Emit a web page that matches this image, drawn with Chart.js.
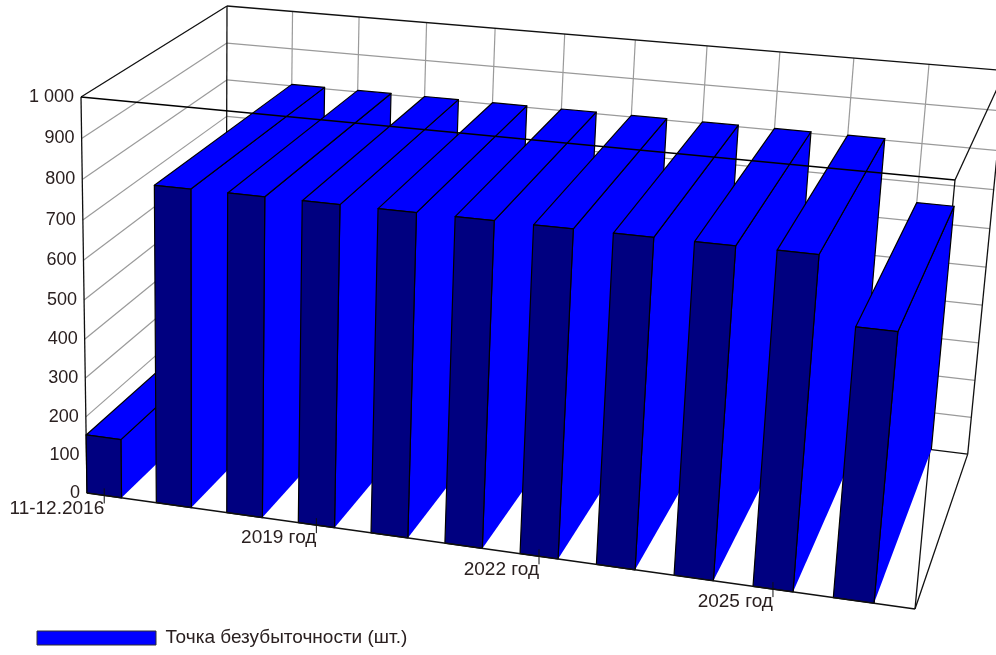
<!DOCTYPE html>
<html lang="ru">
<head>
<meta charset="utf-8">
<title>Точка безубыточности</title>
<script src="https://cdn.jsdelivr.net/npm/chart.js@4/dist/chart.umd.min.js"></script>
<style>
  html, body { margin: 0; padding: 0; background: #fff; }
  #wrap { position: relative; width: 996px; height: 655px; overflow: hidden; }
</style>
</head>
<body>
<div id="wrap"><canvas id="chart" width="996" height="655"></canvas></div>
<script>
var seriesName = "Точка безубыточности (шт.)";
var periods = ["11-12.2016", "2017 год", "2018 год", "2019 год", "2020 год", "2021 год",
               "2022 год", "2023 год", "2024 год", "2025 год", "2026 год"];
var breakEven = [153, 804, 804, 804, 804, 804, 804, 804, 804, 804, 648];
var yTickLabels = ["0", "100", "200", "300", "400", "500", "600", "700", "800", "900", "1 000"];
var labelEvery = 3;

var FONT_FAMILY = '"Liberation Sans", Arial, sans-serif';
var TEXT_COLOR = "#2a2020";
var GRID_COLOR = "#9a9a9a";
var FRAME_COLOR = "#101010";

// perspective camera: (u, depth, v) in 0..1 -> screen
var CAM = {
  x: [87, 749, 166.7, -9.94],
  y: [493, 63.42, -85.84, -400.72],
  w: [1, -0.08634, 0.1225, -0.04868]
};
function project(u, d, v) {
  var w = CAM.w[0] + CAM.w[1] * u + CAM.w[2] * d + CAM.w[3] * v;
  return {
    x: (CAM.x[0] + CAM.x[1] * u + CAM.x[2] * d + CAM.x[3] * v) / w,
    y: (CAM.y[0] + CAM.y[1] * u + CAM.y[2] * d + CAM.y[3] * v) / w
  };
}
function uOf(chart, px) {
  var a = chart.chartArea;
  return (px - a.left) / (a.right - a.left);
}
function vOf(chart, py) {
  var a = chart.chartArea;
  return (a.bottom - py) / (a.bottom - a.top);
}
function segment(ctx, p, q, color, width) {
  ctx.strokeStyle = color;
  ctx.lineWidth = width;
  ctx.beginPath();
  ctx.moveTo(p.x, p.y);
  ctx.lineTo(q.x, q.y);
  ctx.stroke();
}
// open = leave the closing edge without an outline
function face(ctx, pts, fill, open) {
  ctx.fillStyle = fill;
  ctx.strokeStyle = "#000";
  ctx.lineWidth = 1.2;
  ctx.lineJoin = "round";
  ctx.beginPath();
  pts.forEach(function(p, i) { if (i) ctx.lineTo(p.x, p.y); else ctx.moveTo(p.x, p.y); });
  if (!open) ctx.closePath();
  ctx.fill();
  ctx.stroke();
}

// bars use the normal bar layout, only the painting goes through the camera
class Bar3dController extends Chart.BarController {
  draw() {
    var chart = this.chart, ctx = chart.ctx;
    var ds = this.getDataset();
    this.getMeta().data.forEach(function(bar) {
      var p = bar.getProps(["x", "y", "width"], true);
      var u0 = uOf(chart, p.x - p.width / 2), u1 = uOf(chart, p.x + p.width / 2);
      var v = vOf(chart, p.y);
      // side, its floor edge has no outline
      face(ctx, [project(u1, 1, 0), project(u1, 1, v), project(u1, 0, v), project(u1, 0, 0)], ds.backgroundColor, true);
      // top
      face(ctx, [project(u0, 0, v), project(u1, 0, v), project(u1, 1, v), project(u0, 1, v)], ds.backgroundColor);
      // front
      face(ctx, [project(u0, 0, 0), project(u1, 0, 0), project(u1, 0, v), project(u0, 0, v)], ds.frontColor);
    });
  }
}
Bar3dController.id = "bar3d";
Bar3dController.defaults = Chart.BarController.defaults;
Chart.register(Bar3dController);

var box3d = {
  id: "box3d",
  // walls and grid behind the bars
  beforeDatasetsDraw: function(chart) {
    var ctx = chart.ctx, xs = chart.scales.x, ys = chart.scales.y;
    ctx.save();
    ys.ticks.forEach(function(t) {
      if (t.value === ys.min || t.value === ys.max) return;
      var v = vOf(chart, ys.getPixelForValue(t.value));
      segment(ctx, project(0, 0, v), project(0, 1, v), GRID_COLOR, 1.2);
      segment(ctx, project(0, 1, v), project(1, 1, v), GRID_COLOR, 1.2);
    });
    periods.forEach(function(name, i) {
      if (i === 0) return;
      var u = uOf(chart, xs.getPixelForValue(i - 0.25));
      segment(ctx, project(u, 1, 0), project(u, 1, 1), GRID_COLOR, 1.2);
    });
    // frame
    var edges = [
      [[0, 0, 0], [0, 0, 1]], [[0, 1, 0], [0, 1, 1]], [[1, 1, 0], [1, 1, 1]], [[1, 0, 0], [1, 0, 1]],
      [[0, 0, 1], [0, 1, 1]], [[0, 1, 1], [1, 1, 1]], [[1, 0, 1], [1, 1, 1]],
      [[1, 0, 0], [1, 1, 0]], [[0, 1, 0], [1, 1, 0]], [[0, 0, 0], [0, 1, 0]]
    ];
    edges.forEach(function(e) {
      segment(ctx, project.apply(null, e[0]), project.apply(null, e[1]), FRAME_COLOR, 1.3);
    });
    ctx.restore();
  },
  // front edges, ticks and axis text stay on top
  afterDatasetsDraw: function(chart) {
    var ctx = chart.ctx, xs = chart.scales.x, ys = chart.scales.y;
    ctx.save();
    segment(ctx, project(0, 0, 1), project(1, 0, 1), "#000", 1.4);
    segment(ctx, project(0, 0, 0), project(1, 0, 0), FRAME_COLOR, 1.3);

    ctx.fillStyle = TEXT_COLOR;
    ctx.textBaseline = "middle";
    ctx.textAlign = "right";
    ctx.font = "18px " + FONT_FAMILY;
    ys.ticks.forEach(function(t, i) {
      var p = project(0, 0, vOf(chart, ys.getPixelForValue(t.value)));
      ctx.fillText(yTickLabels[i], p.x - 7, p.y);
    });
    ctx.font = "19px " + FONT_FAMILY;
    periods.forEach(function(name, i) {
      if (i % labelEvery) return;
      var p = project(uOf(chart, xs.getPixelForValue(i)), 0, 0);
      segment(ctx, { x: p.x, y: p.y - 7 }, { x: p.x, y: p.y + 8 }, FRAME_COLOR, 1);
      ctx.fillStyle = TEXT_COLOR;
      ctx.fillText(name, p.x, p.y + 13);
    });
    ctx.restore();
  }
};

new Chart(document.getElementById("chart"), {
  type: "bar3d",
  data: {
    datasets: [{
      label: seriesName,
      data: breakEven.map(function(v, i) { return { x: i, y: v }; }),
      backgroundColor: "#0000ff",
      frontColor: "#000080",
      borderColor: "#303030",
      borderWidth: 1,
      categoryPercentage: 0.5,
      barPercentage: 1,
      clip: false
    }]
  },
  options: {
    responsive: false,
    animation: false,
    layout: { padding: { bottom: -2.5 } },
    scales: {
      x: { type: "linear", min: -0.25, max: 10.75, offset: false, display: false, ticks: { stepSize: 1 } },
      y: { type: "linear", min: 0, max: 1000, ticks: { stepSize: 100 }, display: false }
    },
    plugins: {
      tooltip: { enabled: false },
      legend: {
        position: "bottom",
        align: "start",
        labels: {
          boxWidth: 119,
          boxHeight: 14,
          padding: 37,
          color: TEXT_COLOR,
          font: { family: FONT_FAMILY, size: 19 }
        }
      }
    }
  },
  plugins: [box3d]
});
</script>
</body>
</html>
